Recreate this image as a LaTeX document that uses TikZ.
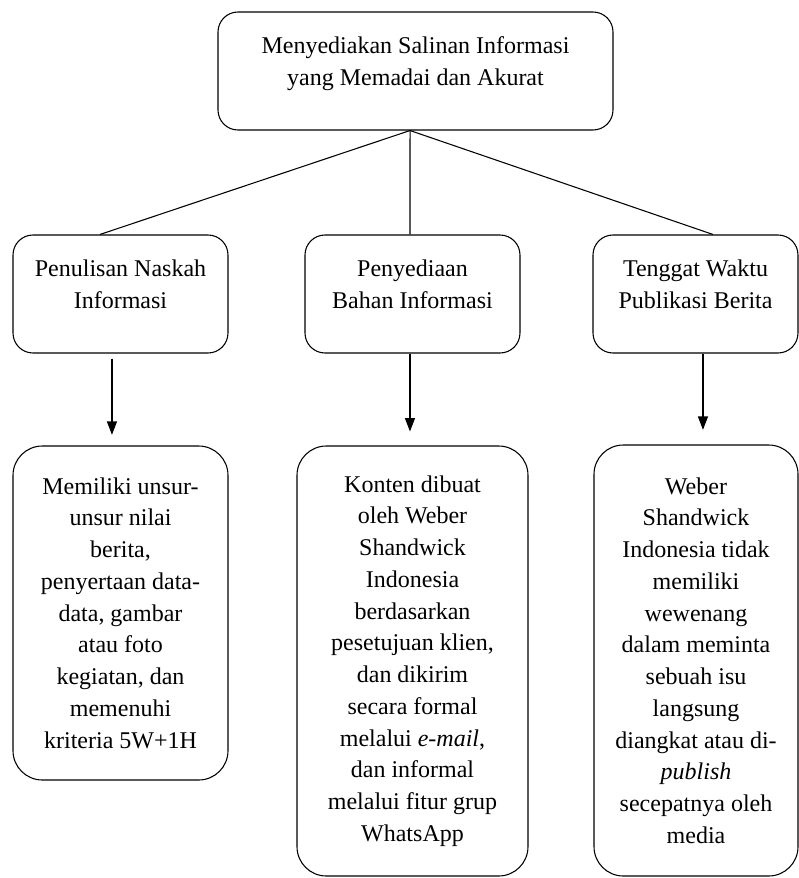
\documentclass[tikz,border=0pt]{standalone}
\usepackage{fontspec}
\setmainfont{Liberation Serif}
\usetikzlibrary{arrows.meta}

\begin{document}
\begin{tikzpicture}[>={Triangle[length=10pt,width=7.5pt]}, x=0.75pt, y=-0.75pt,
  line width=0.8pt,
  every node/.style={font=\fontsize{18}{23.8}\selectfont, align=center},
  judul/.style={draw, rounded corners=15pt, minimum height=88.5pt,
    text depth=14.5pt},
  isi/.style={draw, rounded corners=22pt}]
  \useasboundingbox (0,0) rectangle (799,878);
  % baris atas
  \node[judul, minimum width=296.25pt] (salinan) at (415.5,71)
    {Menyediakan Salinan Informasi\\yang Memadai dan Akurat};
  % baris tengah
  \node[judul, minimum width=161.25pt] (naskah) at (120.5,294)
    {Penulisan Naskah\\Informasi};
  \node[judul, minimum width=161.25pt] (bahan) at (412.5,294)
    {Penyediaan\\Bahan Informasi};
  \node[judul, minimum width=153.75pt] (tenggat) at (695.5,294)
    {Tenggat Waktu\\Publikasi Berita};
  % baris bawah
  \node[isi, minimum width=161.25pt, minimum height=250.5pt] (isi1) at (120.5,613)
    {Memiliki unsur-\\unsur nilai\\berita,\\penyertaan data-\\data, gambar\\
     atau foto\\kegiatan, dan\\memenuhi\\kriteria 5W+1H};
  \node[isi, minimum width=173.25pt, minimum height=322.5pt] (isi2) at (412.5,661)
    {Konten dibuat\\oleh Weber\\Shandwick\\Indonesia\\berdasarkan\\
     pesetujuan klien,\\dan dikirim\\secara formal\\melalui \textit{e-mail},\\
     dan informal\\melalui fitur grup\\WhatsApp};
  \node[isi, minimum width=153pt, minimum height=323.25pt] (isi3) at (696,660.5)
    {Weber\\Shandwick\\Indonesia tidak\\memiliki\\wewenang\\dalam meminta\\
     sebuah isu\\langsung\\diangkat atau di-\\\textit{publish}\\
     secepatnya oleh\\media};
  % garis
  \draw ([xshift=-4.1pt]salinan.south) -- ([xshift=-15.4pt]naskah.north);
  \draw ([xshift=-4.1pt]salinan.south) -- ([xshift=-1.9pt]bahan.north);
  \draw ([xshift=-4.1pt]salinan.south) -- ([xshift=13.1pt]tenggat.north);
  \draw[->, shorten <=3.75pt, shorten >=8pt] ([xshift=-6.4pt]naskah.south)
    -- ([xshift=-6.4pt]naskah.south |- isi1.north);
  \draw[->, shorten >=10.5pt] ([xshift=-1.9pt]bahan.south)
    -- ([xshift=-1.9pt]bahan.south |- isi2.north);
  \draw[->, shorten >=11pt] ([xshift=5.6pt]tenggat.south)
    -- ([xshift=5.6pt]tenggat.south |- isi3.north);
\end{tikzpicture}
\end{document}
